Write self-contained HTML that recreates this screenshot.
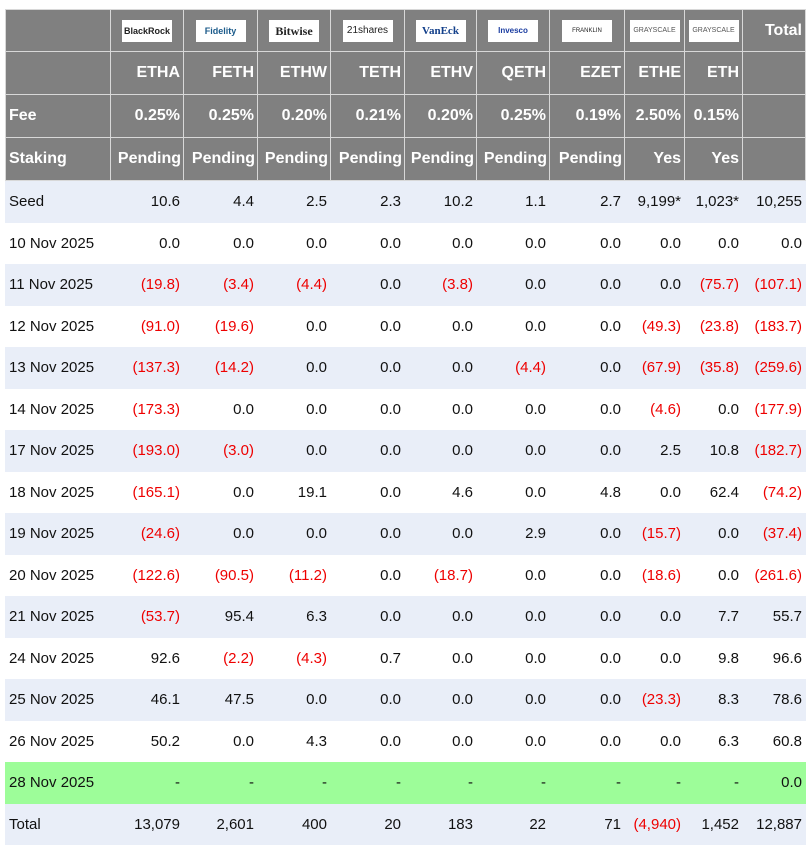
<!DOCTYPE html><html><head><meta charset="utf-8"><style>
body{margin:0;background:#fff;width:810px;height:839px;overflow:hidden;font-family:"Liberation Sans",sans-serif;}
table{position:absolute;left:5px;top:9px;border-collapse:collapse;table-layout:fixed;width:800px;}
td{border:1px solid #ddd;padding:0 3px;text-align:right;font-size:15px;color:#111;white-space:nowrap;overflow:hidden;}
tr.h td{background:#808080;color:#fff;font-weight:bold;font-size:16px;border-color:#d8d8d8;}
tr.h td:first-child{text-align:left}
td:first-child{text-align:left}
tr.l td{background:#e9eef8;border-color:#e9eef8}
tr.w td{background:#fff;border-color:#fff}
tr.g td{background:#9dfd99;border-color:#9dfd99}
.r{color:#e00}
.logo{display:inline-block;background:#fff;width:50px;height:22px;line-height:22px;text-align:center;font-size:9px;color:#222;font-weight:bold;vertical-align:middle}
</style></head><body>
<table>
<colgroup><col style="width:105px"><col style="width:73px"><col style="width:74px"><col style="width:73px"><col style="width:74px"><col style="width:72px"><col style="width:73px"><col style="width:75px"><col style="width:60px"><col style="width:58px"><col style="width:63px"></colgroup>
<tr class="h" style="height:42px"><td></td><td style="text-align:center"><span class="logo">BlackRock</span></td><td style="text-align:center"><span class="logo" style="color:#1a5a8a">Fidelity</span></td><td style="text-align:center"><span class="logo" style="font-family:'Liberation Serif';font-size:12px">Bitwise</span></td><td style="text-align:center"><span class="logo" style="font-weight:normal;font-size:10px">21shares</span></td><td style="text-align:center"><span class="logo" style="color:#123f8a;font-family:'Liberation Serif';font-size:11px">VanEck</span></td><td style="text-align:center"><span class="logo" style="color:#1a3ca0;font-size:8px">Invesco</span></td><td style="text-align:center"><span class="logo" style="font-size:6px;font-weight:normal">FRANKLIN</span></td><td style="text-align:center;padding:0"><span class="logo" style="font-size:7px;font-weight:normal;color:#555">GRAYSCALE</span></td><td style="text-align:center;padding:0"><span class="logo" style="font-size:7px;font-weight:normal;color:#555">GRAYSCALE</span></td><td>Total</td></tr>
<tr class="h" style="height:43px"><td></td><td>ETHA</td><td>FETH</td><td>ETHW</td><td>TETH</td><td>ETHV</td><td>QETH</td><td>EZET</td><td>ETHE</td><td>ETH</td><td></td></tr>
<tr class="h" style="height:43px"><td>Fee</td><td>0.25%</td><td>0.25%</td><td>0.20%</td><td>0.21%</td><td>0.20%</td><td>0.25%</td><td>0.19%</td><td>2.50%</td><td>0.15%</td><td></td></tr>
<tr class="h" style="height:43px"><td>Staking</td><td style="padding:0 2px">Pending</td><td style="padding:0 2px">Pending</td><td style="padding:0 2px">Pending</td><td style="padding:0 2px">Pending</td><td style="padding:0 2px">Pending</td><td style="padding:0 2px">Pending</td><td style="padding:0 2px">Pending</td><td>Yes</td><td>Yes</td><td></td></tr>
<tr class="l" style="height:42px"><td>Seed</td><td>10.6</td><td>4.4</td><td>2.5</td><td>2.3</td><td>10.2</td><td>1.1</td><td>2.7</td><td>9,199*</td><td>1,023*</td><td>10,255</td></tr>
<tr class="w" style="height:41px"><td>10 Nov 2025</td><td>0.0</td><td>0.0</td><td>0.0</td><td>0.0</td><td>0.0</td><td>0.0</td><td>0.0</td><td>0.0</td><td>0.0</td><td>0.0</td></tr>
<tr class="l" style="height:42px"><td>11 Nov 2025</td><td class="r">(19.8)</td><td class="r">(3.4)</td><td class="r">(4.4)</td><td>0.0</td><td class="r">(3.8)</td><td>0.0</td><td>0.0</td><td>0.0</td><td class="r">(75.7)</td><td class="r">(107.1)</td></tr>
<tr class="w" style="height:41px"><td>12 Nov 2025</td><td class="r">(91.0)</td><td class="r">(19.6)</td><td>0.0</td><td>0.0</td><td>0.0</td><td>0.0</td><td>0.0</td><td class="r">(49.3)</td><td class="r">(23.8)</td><td class="r">(183.7)</td></tr>
<tr class="l" style="height:42px"><td>13 Nov 2025</td><td class="r">(137.3)</td><td class="r">(14.2)</td><td>0.0</td><td>0.0</td><td>0.0</td><td class="r">(4.4)</td><td>0.0</td><td class="r">(67.9)</td><td class="r">(35.8)</td><td class="r">(259.6)</td></tr>
<tr class="w" style="height:41px"><td>14 Nov 2025</td><td class="r">(173.3)</td><td>0.0</td><td>0.0</td><td>0.0</td><td>0.0</td><td>0.0</td><td>0.0</td><td class="r">(4.6)</td><td>0.0</td><td class="r">(177.9)</td></tr>
<tr class="l" style="height:42px"><td>17 Nov 2025</td><td class="r">(193.0)</td><td class="r">(3.0)</td><td>0.0</td><td>0.0</td><td>0.0</td><td>0.0</td><td>0.0</td><td>2.5</td><td>10.8</td><td class="r">(182.7)</td></tr>
<tr class="w" style="height:41px"><td>18 Nov 2025</td><td class="r">(165.1)</td><td>0.0</td><td>19.1</td><td>0.0</td><td>4.6</td><td>0.0</td><td>4.8</td><td>0.0</td><td>62.4</td><td class="r">(74.2)</td></tr>
<tr class="l" style="height:42px"><td>19 Nov 2025</td><td class="r">(24.6)</td><td>0.0</td><td>0.0</td><td>0.0</td><td>0.0</td><td>2.9</td><td>0.0</td><td class="r">(15.7)</td><td>0.0</td><td class="r">(37.4)</td></tr>
<tr class="w" style="height:41px"><td>20 Nov 2025</td><td class="r">(122.6)</td><td class="r">(90.5)</td><td class="r">(11.2)</td><td>0.0</td><td class="r">(18.7)</td><td>0.0</td><td>0.0</td><td class="r">(18.6)</td><td>0.0</td><td class="r">(261.6)</td></tr>
<tr class="l" style="height:42px"><td>21 Nov 2025</td><td class="r">(53.7)</td><td>95.4</td><td>6.3</td><td>0.0</td><td>0.0</td><td>0.0</td><td>0.0</td><td>0.0</td><td>7.7</td><td>55.7</td></tr>
<tr class="w" style="height:41px"><td>24 Nov 2025</td><td>92.6</td><td class="r">(2.2)</td><td class="r">(4.3)</td><td>0.7</td><td>0.0</td><td>0.0</td><td>0.0</td><td>0.0</td><td>9.8</td><td>96.6</td></tr>
<tr class="l" style="height:42px"><td>25 Nov 2025</td><td>46.1</td><td>47.5</td><td>0.0</td><td>0.0</td><td>0.0</td><td>0.0</td><td>0.0</td><td class="r">(23.3)</td><td>8.3</td><td>78.6</td></tr>
<tr class="w" style="height:41px"><td>26 Nov 2025</td><td>50.2</td><td>0.0</td><td>4.3</td><td>0.0</td><td>0.0</td><td>0.0</td><td>0.0</td><td>0.0</td><td>6.3</td><td>60.8</td></tr>
<tr class="g" style="height:42px"><td>28 Nov 2025</td><td>-</td><td>-</td><td>-</td><td>-</td><td>-</td><td>-</td><td>-</td><td>-</td><td>-</td><td>0.0</td></tr>
<tr class="l" style="height:41px"><td>Total</td><td>13,079</td><td>2,601</td><td>400</td><td>20</td><td>183</td><td>22</td><td>71</td><td class="r">(4,940)</td><td>1,452</td><td>12,887</td></tr>
</table>
</body></html>
